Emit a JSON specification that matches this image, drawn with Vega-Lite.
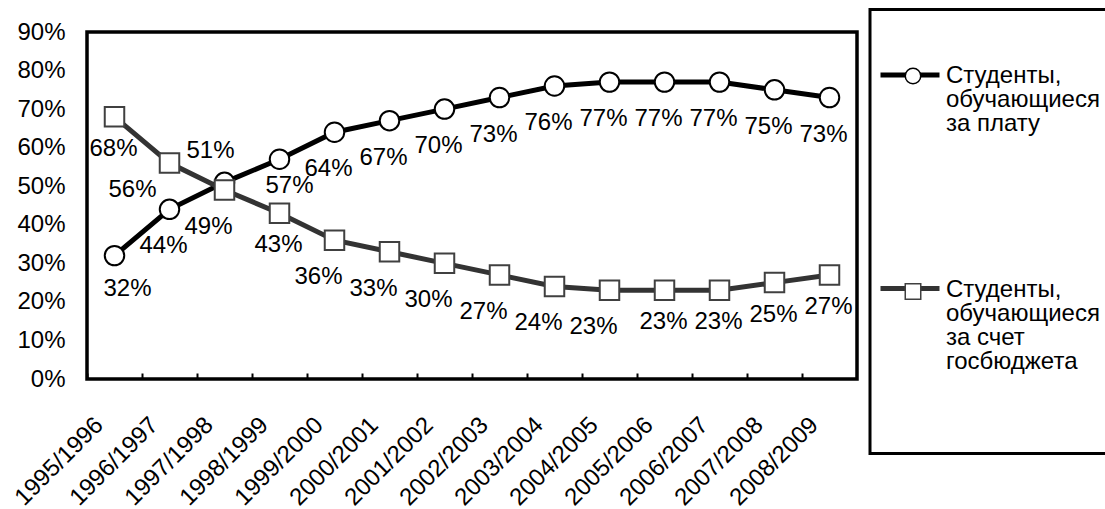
{
  "$schema": "https://vega.github.io/schema/vega-lite/v6.json",
  "autosize": {"type": "none"},
  "width": 770,
  "height": 347,
  "padding": {"left": 87, "top": 32, "right": 248, "bottom": 130},
  "background": "white",
  "config": {
    "font": "Liberation Sans",
    "view": {"stroke": "black", "strokeWidth": 3.5},
    "axis": {"labelFont": "Liberation Sans", "labelFontSize": 24, "labelColor": "black", "grid": false, "domain": false}
  },
  "data": {
    "values": [
      {"year": "1995/1996", "series": "Студенты, обучающиеся за плату", "value": 0.32},
      {"year": "1996/1997", "series": "Студенты, обучающиеся за плату", "value": 0.44},
      {"year": "1997/1998", "series": "Студенты, обучающиеся за плату", "value": 0.51},
      {"year": "1998/1999", "series": "Студенты, обучающиеся за плату", "value": 0.57},
      {"year": "1999/2000", "series": "Студенты, обучающиеся за плату", "value": 0.64},
      {"year": "2000/2001", "series": "Студенты, обучающиеся за плату", "value": 0.67},
      {"year": "2001/2002", "series": "Студенты, обучающиеся за плату", "value": 0.70},
      {"year": "2002/2003", "series": "Студенты, обучающиеся за плату", "value": 0.73},
      {"year": "2003/2004", "series": "Студенты, обучающиеся за плату", "value": 0.76},
      {"year": "2004/2005", "series": "Студенты, обучающиеся за плату", "value": 0.77},
      {"year": "2005/2006", "series": "Студенты, обучающиеся за плату", "value": 0.77},
      {"year": "2006/2007", "series": "Студенты, обучающиеся за плату", "value": 0.77},
      {"year": "2007/2008", "series": "Студенты, обучающиеся за плату", "value": 0.75},
      {"year": "2008/2009", "series": "Студенты, обучающиеся за плату", "value": 0.73},
      {"year": "1995/1996", "series": "Студенты, обучающиеся за счет госбюджета", "value": 0.68},
      {"year": "1996/1997", "series": "Студенты, обучающиеся за счет госбюджета", "value": 0.56},
      {"year": "1997/1998", "series": "Студенты, обучающиеся за счет госбюджета", "value": 0.49},
      {"year": "1998/1999", "series": "Студенты, обучающиеся за счет госбюджета", "value": 0.43},
      {"year": "1999/2000", "series": "Студенты, обучающиеся за счет госбюджета", "value": 0.36},
      {"year": "2000/2001", "series": "Студенты, обучающиеся за счет госбюджета", "value": 0.33},
      {"year": "2001/2002", "series": "Студенты, обучающиеся за счет госбюджета", "value": 0.30},
      {"year": "2002/2003", "series": "Студенты, обучающиеся за счет госбюджета", "value": 0.27},
      {"year": "2003/2004", "series": "Студенты, обучающиеся за счет госбюджета", "value": 0.24},
      {"year": "2004/2005", "series": "Студенты, обучающиеся за счет госбюджета", "value": 0.23},
      {"year": "2005/2006", "series": "Студенты, обучающиеся за счет госбюджета", "value": 0.23},
      {"year": "2006/2007", "series": "Студенты, обучающиеся за счет госбюджета", "value": 0.23},
      {"year": "2007/2008", "series": "Студенты, обучающиеся за счет госбюджета", "value": 0.25},
      {"year": "2008/2009", "series": "Студенты, обучающиеся за счет госбюджета", "value": 0.27}
    ]
  },
  "encoding": {
    "x": {
      "field": "year", "type": "ordinal",
      "scale": {"type": "band", "paddingInner": 0, "paddingOuter": 0},
      "axis": {
        "title": null, "bandPosition": 0, "ticks": true, "tickSize": -6, "tickWidth": 2, "tickColor": "black",
        "labelAngle": -45, "labelAlign": "right", "labelBaseline": "middle", "labelOffset": -15, "labelPadding": 48,
        "labelOverlap": false, "labelFlush": false, "labelBound": false
      }
    },
    "y": {
      "field": "value", "type": "quantitative",
      "scale": {"domain": [0, 0.9], "nice": false, "zero": true},
      "axis": {
        "title": null, "values": [0, 0.1, 0.2, 0.3, 0.4, 0.5, 0.6, 0.7, 0.8, 0.9], "format": ".0%",
        "ticks": false, "tickSize": 0, "labelPadding": 22
      }
    }
  },
  "layer": [
    {
      "mark": {"type": "line", "strokeWidth": 5},
      "encoding": {
        "color": {
          "field": "series", "type": "nominal",
          "scale": {"range": ["#000000", "#333333"]},
          "legend": {
            "orient": "none", "legendX": 783, "legendY": -22.5,
            "title": " ", "titleFontSize": 10, "titlePadding": 15.5,
            "symbolType": "stroke", "symbolSize": 3481, "symbolStrokeWidth": 5,
            "labelExpr": "datum.value == 'Студенты, обучающиеся за плату' ? ['Студенты,', 'обучающиеся', 'за плату'] : ['Студенты,', 'обучающиеся', 'за счет', 'госбюджета', '', '', '']",
            "labelFont": "Liberation Sans", "labelFontSize": 24, "labelColor": "black", "labelBaseline": "top", "labelOffset": 4, "labelLimit": 400,
            "padding": 8, "rowPadding": 120.5, "strokeColor": "black",
            "encode": {
              "labels": {"update": {"dy": {"value": -11}, "lineHeight": {"value": 24}}},
              "legend": {"update": {"strokeWidth": {"value": 3}}}
            }
          }
        }
      }
    },
    {
      "mark": {"type": "point", "filled": false, "fill": "white", "strokeWidth": 2, "size": 380, "opacity": 1},
      "encoding": {
        "shape": {
          "field": "series", "type": "nominal",
          "scale": {"domain": ["Студенты, обучающиеся за плату", "Студенты, обучающиеся за счет госбюджета"], "range": ["circle", "square"]},
          "legend": {
            "orient": "none", "legendX": 806, "legendY": -1.5,
            "title": " ", "titleFontSize": 10, "titlePadding": 15.5,
            "symbolSize": 240, "symbolStrokeWidth": 1.5, "symbolFillColor": "white", "symbolStrokeColor": "black", "symbolOpacity": 1,
            "labelExpr": "datum.value == 'Студенты, обучающиеся за плату' ? ['Студенты,', 'обучающиеся', 'за плату'] : ['Студенты,', 'обучающиеся', 'за счет', 'госбюджета', '', '', '']",
            "labelFont": "Liberation Sans", "labelFontSize": 24, "labelOpacity": 0, "labelBaseline": "top", "labelOffset": 4, "labelLimit": 400,
            "padding": 8, "rowPadding": 127.5,
            "encode": {
              "labels": {"update": {"dy": {"value": -11}, "lineHeight": {"value": 24}, "opacity": {"value": 0}}},
              "symbols": {"update": {"fill": {"value": "white"}, "stroke": {"signal": "datum.value == 'Студенты, обучающиеся за плату' ? '#000000' : '#404040'"}, "strokeWidth": {"value": 1.5}}}
            }
          }
        },
        "stroke": {
          "field": "series", "type": "nominal",
          "scale": {"domain": ["Студенты, обучающиеся за плату", "Студенты, обучающиеся за счет госбюджета"], "range": ["#000000", "#404040"]},
          "legend": null
        }
      }
    },
    {
      "transform": [{"filter": {"and": [{"field": "series", "equal": "Студенты, обучающиеся за плату"}, {"not": {"field": "year", "oneOf": ["1995/1996", "1997/1998", "1998/1999"]}}]}}],
      "mark": {"type": "text", "fontSize": 24, "color": "black", "dx": -6, "dy": 37},
      "encoding": {"text": {"field": "value", "type": "quantitative", "format": ".0%"}}
    },
    {
      "transform": [{"filter": {"and": [{"field": "series", "equal": "Студенты, обучающиеся за плату"}, {"field": "year", "equal": "1995/1996"}]}}],
      "mark": {"type": "text", "fontSize": 24, "color": "black", "dx": 13, "dy": 33},
      "encoding": {"text": {"field": "value", "type": "quantitative", "format": ".0%"}}
    },
    {
      "transform": [{"filter": {"and": [{"field": "series", "equal": "Студенты, обучающиеся за плату"}, {"field": "year", "equal": "1997/1998"}]}}],
      "mark": {"type": "text", "fontSize": 24, "color": "black", "dx": -14, "dy": -31},
      "encoding": {"text": {"field": "value", "type": "quantitative", "format": ".0%"}}
    },
    {
      "transform": [{"filter": {"and": [{"field": "series", "equal": "Студенты, обучающиеся за плату"}, {"field": "year", "equal": "1998/1999"}]}}],
      "mark": {"type": "text", "fontSize": 24, "color": "black", "dx": 10, "dy": 27},
      "encoding": {"text": {"field": "value", "type": "quantitative", "format": ".0%"}}
    },
    {
      "transform": [{"filter": {"and": [{"field": "series", "equal": "Студенты, обучающиеся за счет госбюджета"}, {"field": "year", "oneOf": ["1997/1998", "1999/2000", "2000/2001", "2001/2002", "2002/2003", "2003/2004", "2004/2005"]}]}}],
      "mark": {"type": "text", "fontSize": 24, "color": "black", "dx": -16, "dy": 37},
      "encoding": {"text": {"field": "value", "type": "quantitative", "format": ".0%"}}
    },
    {
      "transform": [{"filter": {"and": [{"field": "series", "equal": "Студенты, обучающиеся за счет госбюджета"}, {"field": "year", "oneOf": ["1995/1996", "1998/1999", "2005/2006", "2006/2007", "2007/2008", "2008/2009"]}]}}],
      "mark": {"type": "text", "fontSize": 24, "color": "black", "dx": -1, "dy": 32},
      "encoding": {"text": {"field": "value", "type": "quantitative", "format": ".0%"}}
    },
    {
      "transform": [{"filter": {"and": [{"field": "series", "equal": "Студенты, обучающиеся за счет госбюджета"}, {"field": "year", "equal": "1996/1997"}]}}],
      "mark": {"type": "text", "fontSize": 24, "color": "black", "dx": -37, "dy": 27},
      "encoding": {"text": {"field": "value", "type": "quantitative", "format": ".0%"}}
    }
  ]
}
